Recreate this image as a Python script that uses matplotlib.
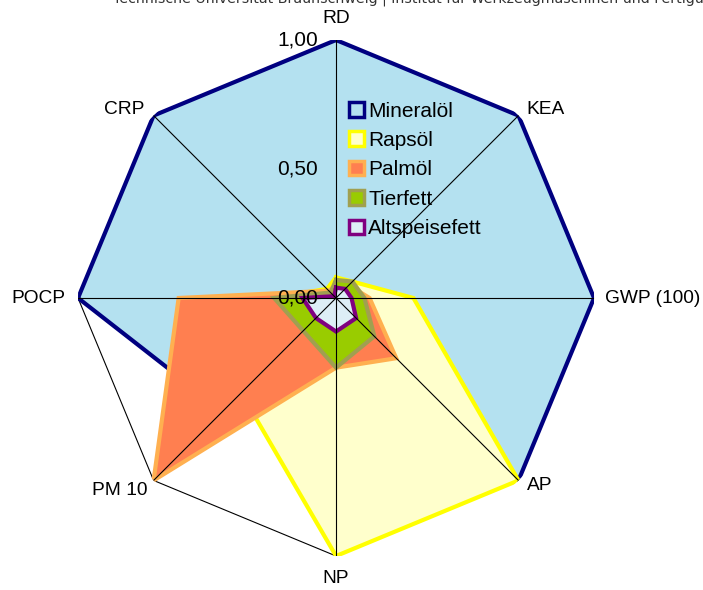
import numpy as np
import matplotlib
matplotlib.use("Agg")
import matplotlib.pyplot as plt
from matplotlib.patches import Patch

plt.rcParams["font.family"] = ["Liberation Sans", "DejaVu Sans"]

categories = ["RD", "KEA", "GWP (100)", "AP", "NP", "PM 10", "POCP", "CRP"]

mineraloel = [1.00, 1.00, 1.00, 1.00, 0.35, 0.62, 1.00, 1.00]
rapsoel = [0.08, 0.09, 0.30, 1.00, 1.00, 0.52, 0.25, 0.05]
palmoel = [0.05, 0.07, 0.13, 0.33, 0.27, 1.00, 0.61, 0.04]
tierfett = [0.07, 0.09, 0.11, 0.21, 0.27, 0.18, 0.24, 0.03]
altspeisefett = [0.04, 0.05, 0.06, 0.11, 0.13, 0.11, 0.13, 0.01]

series = [
    ("Mineralöl", mineraloel, "#b4e1f0", "#000080"),
    ("Rapsöl", rapsoel, "#ffffcc", "#ffff00"),
    ("Palmöl", palmoel, "#ff7f50", "#ffb050"),
    ("Tierfett", tierfett, "#99cc00", "#a0a050"),
    ("Altspeisefett", altspeisefett, "#ddeef6", "#800080"),
]

r_ticks = [0.0, 0.5, 1.0]
r_labels = ["0,00", "0,50", "1,00"]

# label placement (offset in pixels from the axis end, alignment)
label_pos = {
    "RD": (0, 22, "center"),
    "KEA": (27, 6, "center"),
    "GWP (100)": (11, 0, "left"),
    "AP": (21, -5, "center"),
    "NP": (0, -22, "center"),
    "PM 10": (-6, -10, "right"),
    "POCP": (-13, 0, "right"),
    "CRP": (-9, 6, "right"),
}

n = len(categories)
angles = np.linspace(0, 2 * np.pi, n, endpoint=False)
closed = np.concatenate([angles, angles[:1]])

fig = plt.figure(figsize=(7.03, 5.90), dpi=100)
ax = fig.add_axes([0.111, 0.0576, 0.734, 0.8746], projection="polar")
ax.set_theta_offset(np.pi / 2)
ax.set_theta_direction(-1)
ax.set_ylim(0, 1)
ax.grid(False)
ax.spines["polar"].set_visible(False)
ax.set_xticks([])
ax.set_yticks([])
ax.patch.set_alpha(0)

# outer frame
ax.plot(closed, np.ones(n + 1), color="black", lw=0.8, zorder=1)

for i, (name, vals, face, edge) in enumerate(series):
    v = np.concatenate([vals, vals[:1]])
    ax.fill(closed, v, color=face, zorder=2 + i, lw=0)
    ax.plot(closed, v, color=edge, lw=3, zorder=2 + i, solid_joinstyle="miter")

# spokes through the centre
for a in angles[: n // 2]:
    ax.plot([a, a + np.pi], [1, 1], color="black", lw=0.8, zorder=10)

for name, a in zip(categories, angles):
    dx, dy, ha = label_pos[name]
    ax.annotate(name, (a, 1.0), xytext=(dx, dy), textcoords="offset pixels",
                ha=ha, va="center", fontsize=13.8, zorder=11)

for r, lab in zip(r_ticks, r_labels):
    ax.annotate(lab, (0, r), xytext=(-18, 0), textcoords="offset pixels",
                ha="right", va="center", fontsize=15, zorder=11)

handles = [Patch(facecolor=face, edgecolor=edge, lw=2.5, label=name)
           for name, vals, face, edge in series]
fig.legend(handles=handles, loc="upper left", bbox_to_anchor=(0.485, 0.842),
           frameon=False, fontsize=15, handlelength=0.7, handleheight=0.7,
           handletextpad=0.2, labelspacing=0.5, borderaxespad=0)

fig.text(113 / 703, 1 - 3 / 590,
         "Technische Universität Braunschweig | Institut für Werkzeugmaschinen und Fertigungstechnik",
         family="DejaVu Sans", fontsize=10.2, color="#333333", va="baseline", ha="left")

fig.savefig("out.png", dpi=100)
